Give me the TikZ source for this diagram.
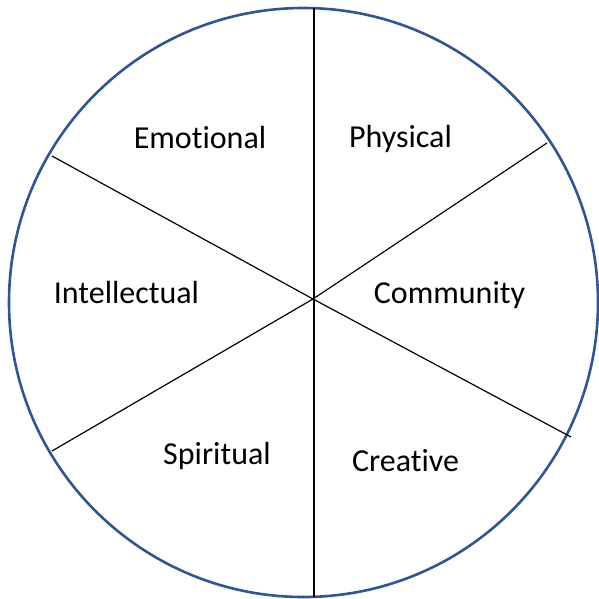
\documentclass[tikz,border=0pt]{standalone}
\usepackage{fontspec}
\setmainfont{Carlito}[RawFeature=-liga]
\definecolor{rimblue}{HTML}{2F5597}
\begin{document}
\begin{tikzpicture}[x=1pt,y=-1pt,
  rim/.style={draw=rimblue,line width=2.6pt},
  spoke/.style={draw=black,line width=1.2pt},
  label/.style={anchor=base,inner sep=0pt,font=\fontsize{32}{38}\selectfont}]
  \useasboundingbox (0,0) rectangle (599,598);
  % outer wheel
  \draw[rim] (303.5,302.5) circle (294.5);
  % hub and rim points of the spokes
  \coordinate (hub) at (313,299);
  \coordinate (top) at (314,8);
  \coordinate (bottom) at (314,597);
  \coordinate (ur) at (547,143);
  \coordinate (ul) at (52,156);
  \coordinate (lr) at (571,437);
  \coordinate (ll) at (52,451);
  \draw[spoke] (top) -- (bottom);
  \draw[spoke] (hub) -- (ur);
  \draw[spoke] (hub) -- (ul);
  \draw[spoke] (hub) -- (lr);
  \draw[spoke] (hub) -- (ll);
  % sector labels
  \node[label] (emotional) at (200,148) {Emotional};
  \node[label] (physical) at (400.5,147) {Physical};
  \node[label] (intellectual) at (126.5,303) {Intellectual};
  \node[label] (community) at (449.5,303) {Community};
  \node[label] (spiritual) at (217,464) {Spiritual};
  \node[label] (creative) at (405.5,471) {Creative};
\end{tikzpicture}
\end{document}
